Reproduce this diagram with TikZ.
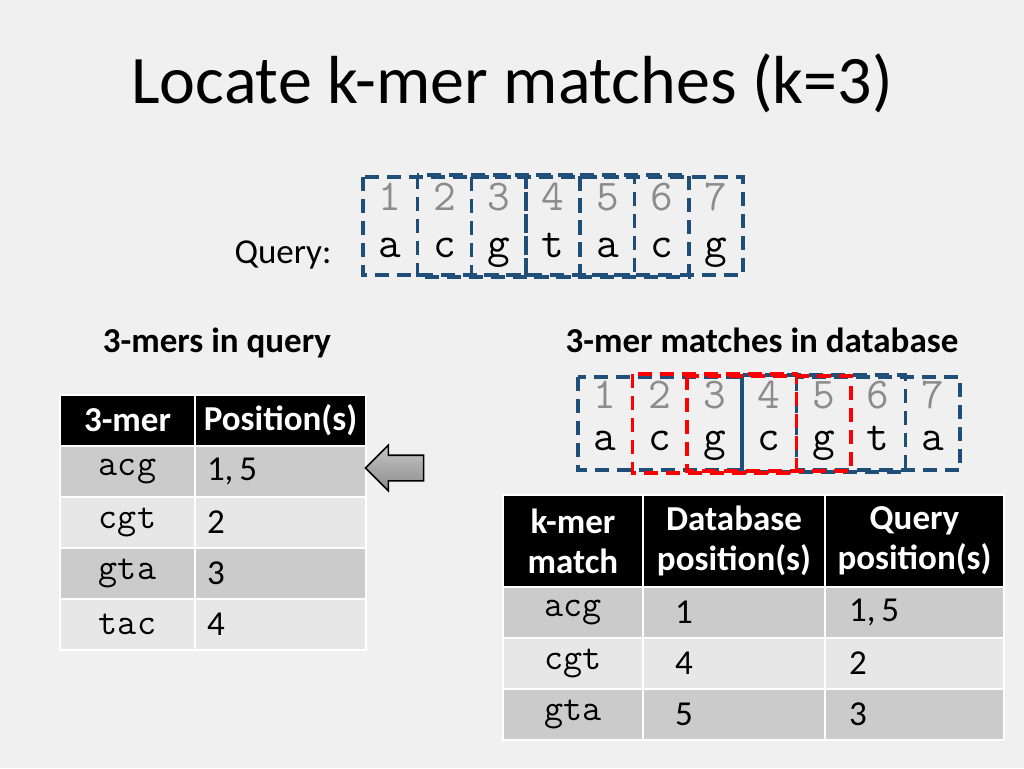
\documentclass[tikz,border=0pt]{standalone}
\usepackage{fontspec}
\setmainfont{Carlito}
\usetikzlibrary{shapes.arrows}

\definecolor{slidebg}{HTML}{F0F0F0}
\definecolor{winblue}{HTML}{1F4E79}
\definecolor{rowdark}{HTML}{CBCBCB}
\definecolor{rowlight}{HTML}{E7E7E7}
\definecolor{posgray}{HTML}{8C8C8C}

\begin{document}
\begin{tikzpicture}[
    x=0.5pt, y=-0.5pt,
    seqchar/.style={
        font=\fontsize{22}{26}\ttfamily,
        anchor=base,
        inner sep=0pt
    },
    seqnum/.style={seqchar, text=posgray},
    window/.style={
        draw=winblue,
        line width=1.8pt,
        dash pattern=on 7pt off 4pt
    },
    miss/.style={window, draw=red},
    heading/.style={font=\fontsize{17.5}{21}\selectfont\bfseries, anchor=base},
    hdcell/.style={
        fill=black,
        draw=white,
        line width=1pt,
        text=white,
        font=\fontsize{17.5}{20}\selectfont\bfseries,
        align=center,
        inner sep=0pt
    },
    darkcell/.style={
        fill=rowdark,
        draw=white,
        line width=1pt,
        font=\fontsize{17.5}{21}\selectfont,
        inner sep=0pt
    },
    lightcell/.style={darkcell, fill=rowlight},
    mercell/.style={font=\fontsize{18.5}{21}\ttfamily},
    blockarrow/.style={
        single arrow,
        shape border rotate=180,
        draw=black,
        line width=0.8pt,
        top color=gray!45,
        bottom color=gray!110!black,
        inner xsep=0pt,
        inner ysep=6pt
    }
]
% slide background
\fill[slidebg] (0,0) rectangle (1024,768);
\useasboundingbox (0,0) rectangle (1024,768);

\node[anchor=base, font=\fontsize{34}{40}\selectfont] (title) at (512,103) {Locate k-mer matches (k=3)};

% query sequence
\node[anchor=base, font=\fontsize{17.5}{21}\selectfont] (qlabel) at (283,263) {Query:};
\foreach \ch [count=\k] in {a,c,g,t,a,c,g} {
    \node[seqnum] (qn\k) at ({363+(\k-0.5)*54.3},210) {\k};
    \node[seqchar] (qc\k) at ({363+(\k-0.5)*54.3},257) {\ch};
}
\foreach \k in {1,...,5}
    \draw[window] ({363+(\k-1)*54.3},{175+mod(\k,2)*2}) rectangle ({363+(\k+2)*54.3},{277-mod(\k,2)*2});

% database sequence
\foreach \ch [count=\k] in {a,c,g,c,g,t,a} {
    \node[seqnum] (dn\k) at ({578+(\k-0.5)*54.6},408) {\k};
    \node[seqchar] (dc\k) at ({578+(\k-0.5)*54.6},450) {\ch};
}
\foreach \k in {1,4,5}
    \draw[window] ({578+(\k-1)*54.6},{375+mod(\k,2)*2}) rectangle ({578+(\k+2)*54.6},{472-mod(\k,2)*2});
\foreach \k in {2,3}
    \draw[miss] ({578+(\k-1)*54.6},{374+mod(\k,2)*2}) rectangle ({578+(\k+2)*54.6},{473-mod(\k,2)*2});

% headings
\node[heading] (qhead) at (217,352) {3-mers in query};
\node[heading] (dhead) at (762,352) {3-mer matches in database};

% 3-mers in query
\node[hdcell, minimum width=67.5pt, minimum height=25.5pt] (qt-h1) at (127.5,420.5) {3-mer};
\node[hdcell, minimum width=85.5pt, minimum height=25.5pt] (qt-h2) at (280.5,420.5) {Position(s)};
\foreach \mer/\pos/\sty [count=\i] in {acg/{1,\,5}/darkcell, cgt/2/lightcell, gta/3/darkcell, tac/4/lightcell} {
    \node[\sty, mercell, minimum width=67.5pt, minimum height=25.5pt] (qt-mer\i) at (127.5,{420.5+51*\i}) {\mer};
    \node[\sty, minimum width=85.5pt, minimum height=25.5pt, inner xsep=6pt, text width=73.5pt, align=left] (qt-pos\i) at (280.5,{420.5+51*\i}) {\pos};
}

\node[blockarrow, minimum height=29pt, single arrow head extend=5pt] (pointer) at (401,468) {};

% matches in database
\node[hdcell, minimum width=70pt, minimum height=46pt] (dt-h1) at (573,541) {k-mer\\match};
\node[hdcell, minimum width=91pt, minimum height=46pt] (dt-h2) at (734,541) {Database\\position(s)};
\node[hdcell, minimum width=89.5pt, minimum height=46pt] (dt-h3) at (914.5,541) {Query\\position(s)};
\foreach \mer/\dpos/\qpos/\sty [count=\i] in {acg/1/{1,\,5}/darkcell, cgt/4/2/lightcell, gta/5/3/darkcell} {
    \node[\sty, mercell, minimum width=70pt, minimum height=25.5pt] (dt-mer\i) at (573,{561.5+51*\i}) {\mer};
    \node[\sty, minimum width=91pt, minimum height=25.5pt, inner xsep=16pt, text width=59pt, align=left] (dt-db\i) at (734,{561.5+51*\i}) {\dpos};
    \node[\sty, minimum width=89.5pt, minimum height=25.5pt, inner xsep=12pt, text width=65.5pt, align=left] (dt-q\i) at (914.5,{561.5+51*\i}) {\qpos};
}
\end{tikzpicture}
\end{document}
